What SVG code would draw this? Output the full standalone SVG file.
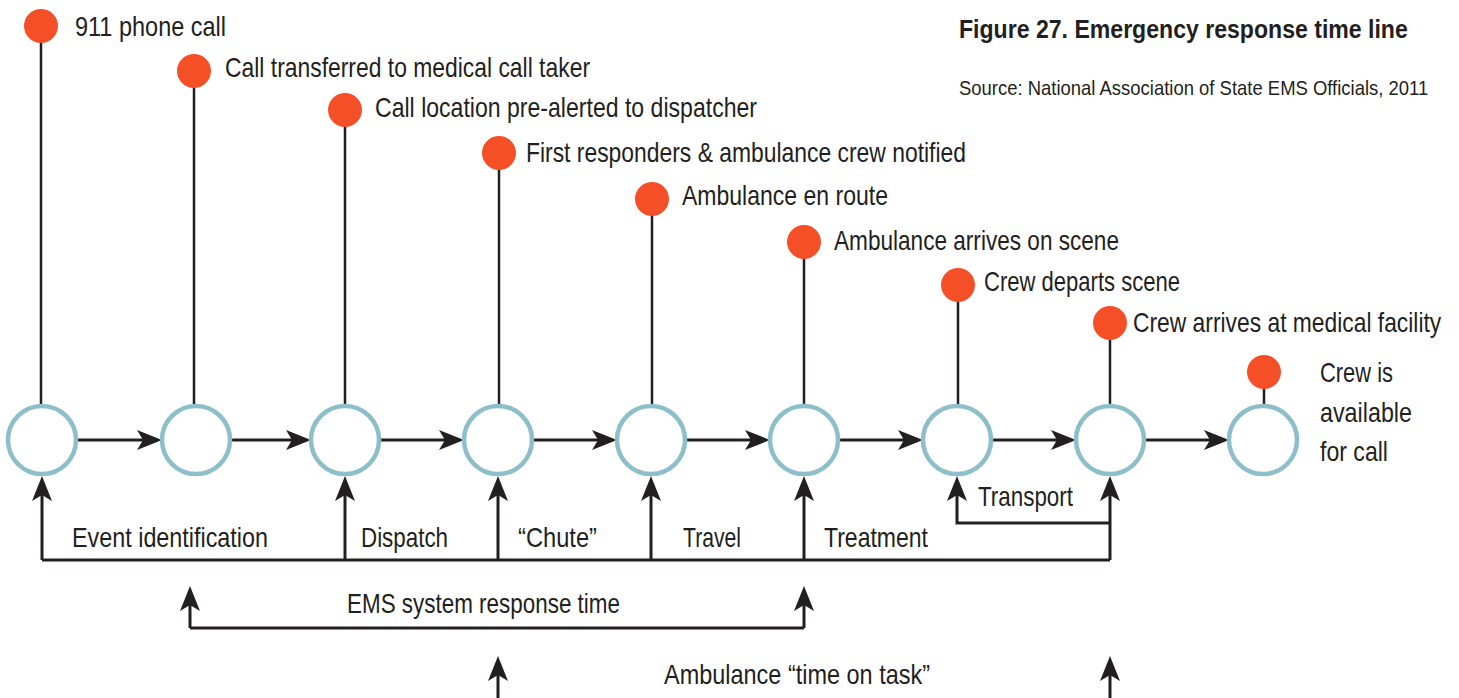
<svg xmlns="http://www.w3.org/2000/svg" width="1459" height="698" viewBox="0 0 1459 698">
<style>
text{font-family:"Liberation Sans",Arial,sans-serif;fill:#231f20;font-size:28px}
.t{font-weight:bold;font-size:26px}
.s{font-size:21px}
.ring{fill:#fff;stroke:#8dbfcb;stroke-width:4.5}
.dot{fill:#f54f28}
.stem{stroke:#231f20;stroke-width:2.5;fill:none}
.ln{stroke:#231f20;stroke-width:3;fill:none}
</style>
<defs>
<marker id="ah" markerUnits="userSpaceOnUse" markerWidth="40" markerHeight="40" viewBox="-20 -20 40 40" refX="0" refY="0" orient="auto" overflow="visible">
<path d="M10,0 L-15,-10 L-9,0 L-15,10 Z" fill="#231f20"/>
</marker>
</defs>
<rect width="1459" height="698" fill="#fff"/>
<g id="title">
<text class="t" transform="translate(959,38) scale(0.85,1)" x="0" y="0" textLength="528" lengthAdjust="spacingAndGlyphs">Figure 27. Emergency response time line</text>
<text class="s" transform="translate(959,95) scale(0.85,1)" x="0" y="0" textLength="552" lengthAdjust="spacingAndGlyphs">Source: National Association of State EMS Officials, 2011</text>
</g>
<g id="connectors">
<path class="ln" marker-end="url(#ah)" d="M78,440 H152"/>
<path class="ln" marker-end="url(#ah)" d="M232,440 H301"/>
<path class="ln" marker-end="url(#ah)" d="M381,440 H454"/>
<path class="ln" marker-end="url(#ah)" d="M534,440 H607"/>
<path class="ln" marker-end="url(#ah)" d="M687,440 H760"/>
<path class="ln" marker-end="url(#ah)" d="M840,440 H913"/>
<path class="ln" marker-end="url(#ah)" d="M993,440 H1066"/>
<path class="ln" marker-end="url(#ah)" d="M1146,440 H1219"/>
<path class="ln" d="M42,560 H1110"/>
<path class="ln" marker-end="url(#ah)" d="M42,560 V486"/>
<path class="ln" marker-end="url(#ah)" d="M345,560 V486"/>
<path class="ln" marker-end="url(#ah)" d="M498,560 V486"/>
<path class="ln" marker-end="url(#ah)" d="M651,560 V486"/>
<path class="ln" marker-end="url(#ah)" d="M804,560 V486"/>
<path class="ln" marker-end="url(#ah)" d="M1110,560 V486"/>
<path class="ln" marker-end="url(#ah)" d="M1110,523 H957 V486"/>
<path class="ln" d="M190,628 H804"/>
<path class="ln" marker-end="url(#ah)" d="M190,628 V596"/>
<path class="ln" marker-end="url(#ah)" d="M804,628 V596"/>
<path class="ln" marker-end="url(#ah)" d="M498,698 V666"/>
<path class="ln" marker-end="url(#ah)" d="M1110,698 V666"/>
</g>
<g id="n1"><line class="stem" x1="41" y1="42" x2="41" y2="404"/><circle class="dot" cx="41" cy="26" r="17"/><circle class="ring" cx="42" cy="440" r="34"/><text x="75" y="36" textLength="151" lengthAdjust="spacingAndGlyphs">911 phone call</text></g>
<g id="n2"><line class="stem" x1="194" y1="86" x2="194" y2="404"/><circle class="dot" cx="194" cy="71" r="17"/><circle class="ring" cx="196" cy="440" r="34"/><text x="225" y="77" textLength="365" lengthAdjust="spacingAndGlyphs">Call transferred to medical call taker</text></g>
<g id="n3"><line class="stem" x1="345" y1="126" x2="345" y2="404"/><circle class="dot" cx="345" cy="110" r="17"/><circle class="ring" cx="345" cy="440" r="34"/><text x="375" y="117" textLength="382" lengthAdjust="spacingAndGlyphs">Call location pre-alerted to dispatcher</text></g>
<g id="n4"><line class="stem" x1="499" y1="168" x2="499" y2="404"/><circle class="dot" cx="499" cy="153" r="17"/><circle class="ring" cx="498" cy="440" r="34"/><text x="526" y="162" textLength="440" lengthAdjust="spacingAndGlyphs">First responders &amp; ambulance crew notified</text></g>
<g id="n5"><line class="stem" x1="652" y1="214" x2="652" y2="404"/><circle class="dot" cx="652" cy="199" r="17"/><circle class="ring" cx="651" cy="440" r="34"/><text x="682" y="205" textLength="206" lengthAdjust="spacingAndGlyphs">Ambulance en route</text></g>
<g id="n6"><line class="stem" x1="804" y1="257" x2="804" y2="404"/><circle class="dot" cx="804" cy="242" r="17"/><circle class="ring" cx="804" cy="440" r="34"/><text x="834" y="250" textLength="285" lengthAdjust="spacingAndGlyphs">Ambulance arrives on scene</text></g>
<g id="n7"><line class="stem" x1="958" y1="300" x2="958" y2="404"/><circle class="dot" cx="958" cy="285" r="17"/><circle class="ring" cx="957" cy="440" r="34"/><text x="984" y="291" textLength="196" lengthAdjust="spacingAndGlyphs">Crew departs scene</text></g>
<g id="n8"><line class="stem" x1="1110" y1="338" x2="1110" y2="404"/><circle class="dot" cx="1110" cy="323" r="17"/><circle class="ring" cx="1110" cy="440" r="34"/><text transform="translate(1133,332) scale(0.75,1)" x="0" y="0" textLength="411" lengthAdjust="spacingAndGlyphs">Crew arrives at medical facility</text></g>
<g id="n9"><line class="stem" x1="1264" y1="386" x2="1264" y2="404"/><circle class="dot" cx="1264" cy="372" r="17"/><circle class="ring" cx="1263" cy="440" r="34"/><text x="1320" y="382" textLength="73" lengthAdjust="spacingAndGlyphs">Crew is</text><text x="1320" y="422" textLength="92" lengthAdjust="spacingAndGlyphs">available</text><text x="1320" y="461" textLength="68" lengthAdjust="spacingAndGlyphs">for call</text></g>
<g id="labels">
<text x="72" y="547" textLength="196" lengthAdjust="spacingAndGlyphs">Event identification</text>
<text x="361" y="547" textLength="87" lengthAdjust="spacingAndGlyphs">Dispatch</text>
<text x="518" y="547" textLength="79" lengthAdjust="spacingAndGlyphs">“Chute”</text>
<text x="683" y="547" textLength="58" lengthAdjust="spacingAndGlyphs">Travel</text>
<text x="824" y="547" textLength="104" lengthAdjust="spacingAndGlyphs">Treatment</text>
<text x="978" y="506" textLength="95" lengthAdjust="spacingAndGlyphs">Transport</text>
<text x="347" y="613" textLength="273" lengthAdjust="spacingAndGlyphs">EMS system response time</text>
<text x="664" y="684" textLength="266" lengthAdjust="spacingAndGlyphs">Ambulance “time on task”</text>
</g>
</svg>
